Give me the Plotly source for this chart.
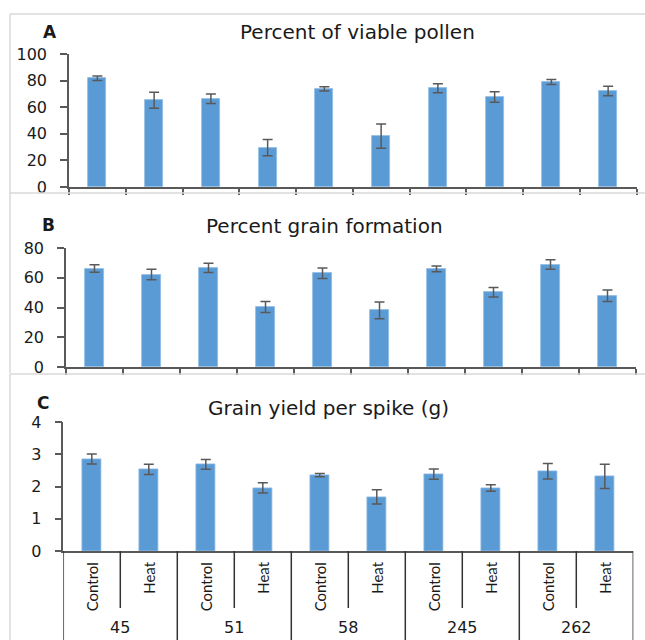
import plotly.graph_objects as go

genotypes = ["45", "51", "58", "245", "262"]
treatments = ["Control", "Heat"]
categories = [f"{g} {t}" for g in genotypes for t in treatments]

pollen = [81.7, 65.2, 66.3, 29.6, 73.8, 38.2, 74.3, 67.7, 78.9, 72.2]
pollen_err = [1.7, 6.0, 3.6, 6.1, 1.6, 9.1, 3.4, 4.0, 1.9, 3.6]

grain_form = [66.2, 62.2, 66.6, 40.5, 63.1, 38.2, 66.0, 50.3, 68.9, 48.0]
grain_form_err = [2.5, 3.5, 3.1, 3.7, 3.5, 5.6, 2.0, 3.2, 3.2, 3.9]

yield_spike = [2.86, 2.54, 2.69, 1.96, 2.36, 1.68, 2.39, 1.96, 2.48, 2.32]
yield_err = [0.155, 0.16, 0.15, 0.16, 0.05, 0.22, 0.16, 0.10, 0.24, 0.38]

titles = ["Percent of viable pollen", "Percent grain formation", "Grain yield per spike (g)"]
letters = ["A", "B", "C"]

BAR = "#5B9BD5"
AX = "#595959"
FONT = "DejaVu Sans"
TXT = "#1a1a1a"

xs = list(range(len(categories)))
fig = go.Figure()
series = [(pollen, pollen_err), (grain_form, grain_form_err), (yield_spike, yield_err)]
for k, (vals, errs) in enumerate(series):
    suf = "" if k == 0 else str(k + 1)
    fig.add_trace(go.Bar(
        x=xs, y=vals, width=0.32,
        marker=dict(color=BAR, line=dict(color="#8fbbe3", width=0.8)),
        error_y=dict(type="data", array=errs, visible=True, color=AX, thickness=1.5, width=5),
        xaxis="x" + suf, yaxis="y" + suf, hovertext=categories, showlegend=False,
    ))

xdoms = [[69 / 645, 636.5 / 645], [66 / 645, 636 / 645], [63.3 / 645, 633.3 / 645]]
ydoms = [[1 - 187 / 640, 1 - 54 / 640], [1 - 367.3 / 640, 1 - 248 / 640], [1 - 551 / 640, 1 - 422.3 / 640]]
yranges = [[0, 100], [0, 80], [0, 4]]
dticks = [20, 20, 1]

layout = dict(
    width=645, height=640, margin=dict(l=0, r=0, t=0, b=0),
    paper_bgcolor="white", plot_bgcolor="white", bargap=0,
    font=dict(family=FONT, color=TXT),
)
for k in range(3):
    suf = "" if k == 0 else str(k + 1)
    layout["xaxis" + suf] = dict(
        domain=xdoms[k], range=[-0.5, 9.5], anchor="y" + suf,
        showline=True, linecolor=AX, linewidth=1.5, showgrid=False, zeroline=False,
        tickmode="array", tickvals=[i - 0.5 for i in range(11)] if k < 2 else [],
        ticks="outside" if k < 2 else "", ticklen=6, tickcolor=AX, tickwidth=1.5,
        showticklabels=False, fixedrange=True, automargin=False,
    )
    layout["yaxis" + suf] = dict(
        domain=ydoms[k], range=yranges[k], anchor="x" + suf, dtick=dticks[k],
        showline=True, linecolor=AX, linewidth=1.5, showgrid=False, zeroline=False,
        ticks="outside", ticklen=7, tickcolor=AX, tickwidth=1.5, ticklabelstandoff=10,
        tickfont=dict(family=FONT, size=16, color=TXT), fixedrange=True, automargin=False,
    )
fig.update_layout(**layout)

# panel frames
frame = dict(type="line", xref="paper", yref="paper", line=dict(color="#d9d9d9", width=1.5))
for ypx in [14, 193, 374]:
    fig.add_shape(**frame, x0=10 / 645, x1=1, y0=1 - ypx / 640, y1=1 - ypx / 640)
for y0, y1 in [(14, 193), (193, 373), (374, 640)]:
    fig.add_shape(**frame, x0=10 / 645, x1=10 / 645, y0=1 - y0 / 640, y1=1 - y1 / 640)

# titles and panel letters
title_x = [357.5 / 645, 324 / 645, 328 / 645]
title_y = [32, 226, 408]
letter_x = [50, 48, 43]
letter_y = [32, 225, 403]
for k in range(3):
    fig.add_annotation(text=titles[k], xref="paper", yref="paper", x=title_x[k], y=1 - title_y[k] / 640,
                       showarrow=False, font=dict(family=FONT, size=20, color=TXT),
                       xanchor="center", yanchor="middle")
    fig.add_annotation(text="<b>" + letters[k] + "</b>", xref="paper", yref="paper",
                       x=letter_x[k] / 645, y=1 - letter_y[k] / 640, showarrow=False,
                       font=dict(family=FONT, size=17, color=TXT), xanchor="center", yanchor="middle")

# multi-level category axis for panel C
for b in range(11):
    xb = b - 0.5
    outer = (b % 2 == 0)
    fig.add_shape(type="line", xref="x3", yref="y3 domain", x0=xb, x1=xb, y0=0,
                  y1=-0.8 if outer else -0.443, line=dict(color="#333333", width=1.5))
for i, cat in enumerate(categories):
    t = treatments[i % 2]
    fig.add_annotation(text=t, xref="x3", yref="y3 domain", x=i, y=-0.07, textangle=-90,
                       showarrow=False, xanchor="center", yanchor="top",
                       font=dict(family="Lato", size=15, color=TXT))
for j, g in enumerate(genotypes):
    fig.add_annotation(text=g, xref="x3", yref="y3 domain", x=2 * j + 0.5, y=-0.598,
                       showarrow=False, xanchor="center", yanchor="middle",
                       font=dict(family=FONT, size=16, color=TXT))

fig.write_html("out.html", config={"displayModeBar": False},
               post_script="document.body.style.margin='0';document.body.style.overflow='hidden';")
